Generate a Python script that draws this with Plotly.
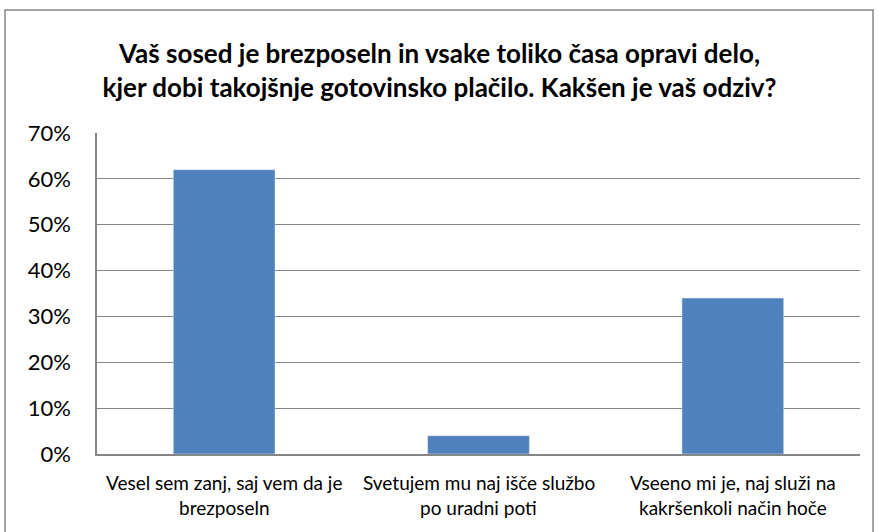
import plotly.graph_objects as go

categories = ["Vesel sem zanj, saj vem da je brezposeln",
              "Svetujem mu naj išče službo po uradni poti",
              "Vseeno mi je, naj služi na kakršenkoli način hoče"]
label_line1 = ["Vesel sem zanj, saj vem da je",
               "Svetujem mu naj išče službo",
               "Vseeno mi je, naj služi na"]
label_line2 = ["brezposeln", "po uradni poti", "kakršenkoli način hoče"]
values = [0.62, 0.04, 0.34]
title_text = ("<b>Vaš sosed je brezposeln in vsake toliko časa opravi delo,<br>"
              "kjer dobi takojšnje gotovinsko plačilo. Kakšen je vaš odziv?</b>")

W, H = 879, 532
L, R, T, B = 97, 19, 133, 78
pw, ph = W - L - R, H - T - B

def px(x):
    return (x - L) / pw

def py(y):
    return (H - B - y) / ph

FONT = "Lato, Carlito, sans-serif"

fig = go.Figure(go.Bar(x=categories, y=values, marker=dict(color="#4F81BD"), width=0.4))

annotations = []
for cat, l1, l2 in zip(categories, label_line1, label_line2):
    annotations.append(dict(x=cat, y=0, xref="x", yref="y", text=l1, showarrow=False,
                            yanchor="middle", yshift=-(482 - 454),
                            font=dict(size=19, family=FONT, color="black")))
    annotations.append(dict(x=cat, y=0, xref="x", yref="y", text=l2, showarrow=False,
                            yanchor="middle", yshift=-(507 - 454),
                            font=dict(size=19, family=FONT, color="black")))

fig.update_layout(
    width=W, height=H,
    margin=dict(l=L, r=R, t=T, b=B),
    paper_bgcolor="white", plot_bgcolor="white",
    font=dict(family=FONT, color="black"),
    showlegend=False,
    title=dict(text=title_text, x=0.5, xanchor="center", y=(H - 63) / H, yanchor="middle",
               font=dict(size=26, color="black")),
    xaxis=dict(showline=True, linecolor="#868686", linewidth=1.5, ticks="",
               showticklabels=False, showgrid=False),
    yaxis=dict(range=[0, 0.7], dtick=0.1, tickformat=".0%", showgrid=True,
               gridcolor="#868686", gridwidth=1.2, showline=True, linecolor="#868686",
               linewidth=1.5, ticks="", tickfont=dict(size=22), zeroline=False,
               ticklabelstandoff=20),
    annotations=annotations,
    shapes=[dict(type="rect", xref="paper", yref="paper",
                 x0=px(5), x1=px(873), y0=py(10), y1=py(545),
                 line=dict(color="#868686", width=1.5), fillcolor="rgba(0,0,0,0)",
                 layer="below")],
)

fig.write_html("out.html", config={"displayModeBar": False},
               post_script="document.body.style.margin='0';")
